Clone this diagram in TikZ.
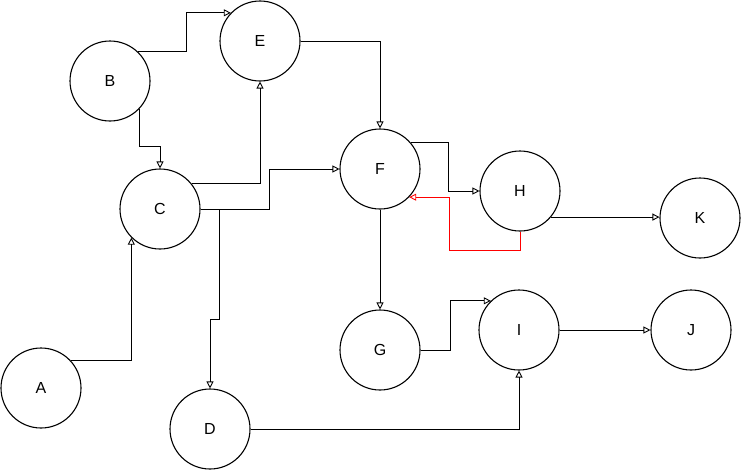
\documentclass[tikz,border=0pt]{standalone}
\usepackage{fontspec}
\setmainfont{Liberation Sans}
\usepackage{tikz}
\usetikzlibrary{arrows.meta}
\usetikzlibrary{calc}

\tikzset{
  vertex/.style={circle, draw, line width=1.1pt, minimum size=80pt, inner sep=0pt, font=\fontsize{16}{18}\selectfont},
  link/.style={line width=0.9pt, -{Triangle[open, length=7pt, width=7pt]}},
  backlink/.style={link, draw=red}
}

\begin{document}
\begin{tikzpicture}[x=1pt, y=-1pt]
\useasboundingbox (0,0) rectangle (741,471);
\foreach \Name/\X/\Y in {A/41/388, B/110/81, C/160/209, D/210/429, E/260/41, F/380/169, G/380/350, H/520/191, I/519/330, J/691/330, K/700/218}
    \node[vertex] (\Name) at (\X,\Y) {\Name};
\draw[link] (A.42) -| (C.225);
\draw[link] (B.46) -- ++(48,0) |- (E.136);
\draw[link] (B.-44) -- ++(0,37) -| (C.north);
\draw[link] (C.39) -| (E.south);
\draw[link] (C.east) -- ++(69,0) |- (F.west);
\draw[link] (C.east) -- ++(19,0) -- ++(0,110) -| (D.north);
\draw[link] (E.east) -| (F.north);
\draw[link] (F.41) -- ++(38,0) |- (H.west);
\draw[backlink] (H.south) -- ++(0,19) -- ++(-71,0) |- (F.-44);
\draw[link] (H.-40) -- (H.-40 -| K.west);
\draw[link] (G.east) -- ++(30,0) |- (I.134);
\draw[link] (D.east) -| (I.south);
\foreach \From/\To in {F.south/G.north, I.east/J.west}
    \draw[link] (\From) -- (\To);
\end{tikzpicture}
\end{document}
